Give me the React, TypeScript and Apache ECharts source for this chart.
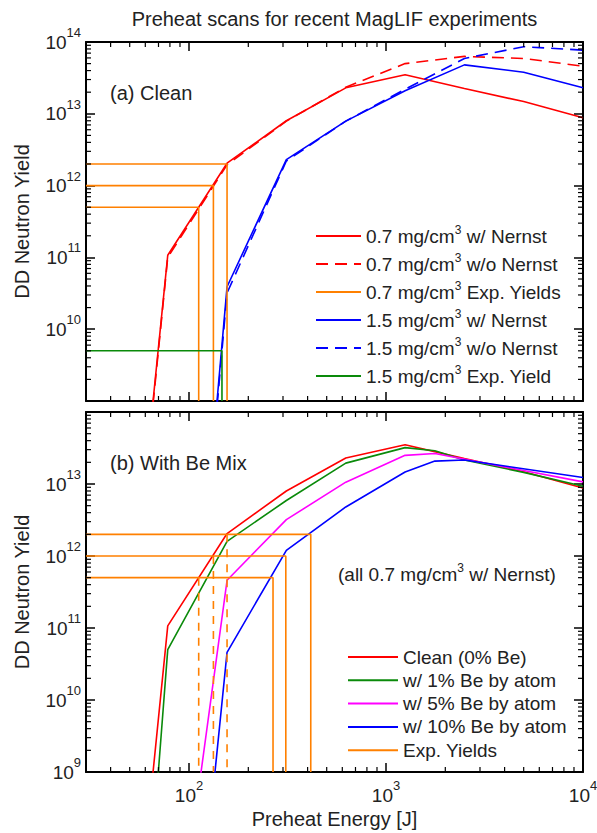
import React, { useEffect, useRef } from 'react';
import * as echarts from 'echarts';

const FONT = '"Liberation Sans", Arial, Helvetica, sans-serif';
const TEXT = '#222222';

// ---- axis ranges and ticks ----
const X_MIN = 30;
const X_MAX = 10000;
const Y_MIN = 1e9;
const Y_MAX = 1e14;
const xMinorTicks = [40, 50, 60, 70, 80, 90, 200, 300, 400, 500, 600, 700, 800, 900, 2000, 3000, 4000, 5000, 6000, 7000, 8000, 9000];
const yMinorTicks = [
  2e9, 3e9, 4e9, 5e9, 6e9, 7e9, 8e9, 9e9,
  2e10, 3e10, 4e10, 5e10, 6e10, 7e10, 8e10, 9e10,
  2e11, 3e11, 4e11, 5e11, 6e11, 7e11, 8e11, 9e11,
  2e12, 3e12, 4e12, 5e12, 6e12, 7e12, 8e12, 9e12,
  2e13, 3e13, 4e13, 5e13, 6e13, 7e13, 8e13, 9e13,
];

// ---- panel (a): clean scans ----
const energy07 = [55, 78, 156, 312, 625, 1250, 2500, 5000, 10000];
const yield07Nernst = [8e6, 1.07e11, 2.05e12, 8.0e12, 2.3e13, 3.5e13, 2.25e13, 1.48e13, 8.8e12];
const yield07NoNernst = [7e6, 1.0e11, 1.95e12, 7.9e12, 2.35e13, 5.0e13, 6.3e13, 5.9e13, 4.6e13];
const energy15 = [110, 156, 312, 625, 1250, 2500, 5000, 10000];
const yield15Nernst = [7e5, 3.9e10, 2.3e12, 7.9e12, 2.1e13, 4.8e13, 3.8e13, 2.3e13];
const yield15NoNernst = [6e5, 3.2e10, 2.2e12, 7.9e12, 2.2e13, 5.9e13, 8.6e13, 7.7e13];

// ---- panel (b): Be mix scans (0.7 mg/cm3 w/ Nernst) ----
const energyBe1 = [55, 78, 156, 312, 625, 1250, 1770, 2500, 5000, 10000];
const yieldBe1 = [2e5, 5e10, 1.6e12, 5.9e12, 1.95e13, 3.2e13, 2.9e13, 2.15e13, 1.45e13, 9.3e12];
const energyBe5 = [110, 156, 312, 625, 1250, 1770, 10000];
const yieldBe5 = [4e8, 4.6e11, 3.2e12, 1.06e13, 2.5e13, 2.65e13, 1.07e13];
const energyBe10 = [110, 156, 312, 625, 1250, 1770, 2500, 10000];
const yieldBe10 = [3.5e6, 4.6e10, 1.2e12, 4.8e12, 1.47e13, 2.08e13, 2.15e13, 1.23e13];

// ---- experimental yields and inferred preheat energies ----
const expYields07 = [5e11, 1e12, 2e12];
const expEnergyClean07 = [112, 133, 156];
const expEnergyBe07 = [267, 310, 415];
const expYields15 = [5e9];
const expEnergyClean15 = [147];

const RED = '#ff0000';
const BLUE = '#0000ff';
const GREEN = '#0a8a0a';
const MAGENTA = '#ff00ff';
const ORANGE = '#ff8000';

const pairs = (xs: number[], ys: number[]) => xs.map((x, i) => [x, ys[i]]);

const line = (name: string, xs: number[], ys: number[], color: string, grid: number, dashed = false) => ({
  type: 'line',
  name,
  xAxisIndex: grid * 2,
  yAxisIndex: grid * 2,
  data: pairs(xs, ys),
  showSymbol: false,
  symbol: 'none',
  clip: true,
  silent: true,
  z: 3,
  itemStyle: { color },
  lineStyle: { color, width: 1.6, type: dashed ? [12, 7] : 'solid' },
});

const expLSeries = (name: string, ys: number[], xs: number[], color: string, grid: number) =>
  ys.map((y, i) => ({
    type: 'line',
    name,
    xAxisIndex: grid * 2,
    yAxisIndex: grid * 2,
    data: [[X_MIN, y], [xs[i], y], [xs[i], Y_MIN]],
    showSymbol: false,
    symbol: 'none',
    clip: true,
    silent: true,
    z: 4,
    itemStyle: { color },
    lineStyle: { color, width: 1.6 },
  }));

const expDashSeries = (name: string, ys: number[], xs: number[], color: string, grid: number) =>
  ys.map((y, i) => ({
    type: 'line',
    name,
    xAxisIndex: grid * 2,
    yAxisIndex: grid * 2,
    data: [[xs[i], y], [xs[i], Y_MIN]],
    showSymbol: false,
    symbol: 'none',
    clip: true,
    silent: true,
    z: 4,
    itemStyle: { color },
    lineStyle: { color, width: 1.6, type: [8, 7] },
  }));

const minorTickSeries = (grid: number, dir: 'x' | 'y') => ({
  type: 'custom',
  xAxisIndex: grid * 2,
  yAxisIndex: grid * 2,
  silent: true,
  z: 10,
  data: dir === 'x' ? xMinorTicks.map((v) => [v, Y_MIN]) : yMinorTicks.map((v) => [X_MIN, v]),
  renderItem: (params: any, api: any) => {
    const cs = params.coordSys;
    const p = api.coord([api.value(0), api.value(1)]);
    const st = { stroke: '#000', lineWidth: 1.2 };
    const L = 5;
    if (dir === 'x') {
      const top = cs.y;
      const bot = cs.y + cs.height;
      return {
        type: 'group',
        children: [
          { type: 'line', shape: { x1: p[0], y1: bot, x2: p[0], y2: bot - L }, style: st },
          { type: 'line', shape: { x1: p[0], y1: top, x2: p[0], y2: top + L }, style: st },
        ],
      };
    }
    const left = cs.x;
    const right = cs.x + cs.width;
    return {
      type: 'group',
      children: [
        { type: 'line', shape: { x1: left, y1: p[1], x2: left + L, y2: p[1] }, style: st },
        { type: 'line', shape: { x1: right, y1: p[1], x2: right - L, y2: p[1] }, style: st },
      ],
    };
  },
});

const powFormatter = (hide: number[]) => (v: number) => {
  const lg = Math.log10(v);
  const e = Math.round(lg);
  if (Math.abs(lg - e) > 1e-6 || hide.includes(e)) return '';
  return `{b|10}{s|${e}}`;
};

const labelRich = {
  b: { fontSize: 19, fontFamily: FONT, color: TEXT },
  s: { fontSize: 13, fontFamily: FONT, color: TEXT, padding: [0, 0, 19, 0] },
};

const axisCommon = {
  type: 'log',
  logBase: 10,
  axisLine: { show: true, onZero: false, lineStyle: { color: '#000', width: 2 } },
  axisTick: { show: true, inside: true, length: 9, lineStyle: { color: '#000', width: 1.5 } },
  splitLine: { show: false },
  minorTick: { show: false },
};

const xAxisDef = (grid: number, position: 'top' | 'bottom', labels: boolean, withName: boolean) => ({
  ...axisCommon,
  gridIndex: grid,
  position,
  min: X_MIN,
  max: X_MAX,
  splitNumber: 3,
  axisLabel: {
    show: labels,
    showMinLabel: true,
    showMaxLabel: true,
    margin: 7,
    formatter: powFormatter([]),
    rich: labelRich,
  },
  name: withName ? 'Preheat Energy [J]' : '',
  nameLocation: 'middle',
  nameGap: 37,
  nameTextStyle: { fontSize: 20, fontFamily: FONT, color: TEXT },
});

const yAxisDef = (grid: number, position: 'left' | 'right', labels: boolean, hide: number[]) => ({
  ...axisCommon,
  gridIndex: grid,
  position,
  min: Y_MIN,
  max: Y_MAX,
  splitNumber: 5,
  axisLabel: {
    show: labels,
    showMinLabel: true,
    showMaxLabel: true,
    margin: 5,
    formatter: powFormatter(hide),
    rich: labelRich,
  },
  name: labels ? 'DD Neutron Yield' : '',
  nameLocation: 'middle',
  nameGap: 54,
  nameRotate: 90,
  nameTextStyle: { fontSize: 20, fontFamily: FONT, color: TEXT },
});

const legendText = {
  fontSize: 19,
  fontFamily: FONT,
  color: TEXT,
  lineHeight: 20,
  rich: { s: { fontSize: 12, lineHeight: 12, fontFamily: FONT, color: TEXT, padding: [0, 0, 12, 0] } },
};

const NAME_07N = '0.7 mg/cm3 w/ Nernst';
const NAME_07NN = '0.7 mg/cm3 w/o Nernst';
const NAME_07E = '0.7 mg/cm3 Exp. Yields';
const NAME_15N = '1.5 mg/cm3 w/ Nernst';
const NAME_15NN = '1.5 mg/cm3 w/o Nernst';
const NAME_15E = '1.5 mg/cm3 Exp. Yield';
const NAME_B0 = 'Clean (0% Be)';
const NAME_B1 = 'w/ 1% Be by atom';
const NAME_B5 = 'w/ 5% Be by atom';
const NAME_B10 = 'w/ 10% Be by atom';
const NAME_BE = 'Exp. Yields';

export default function App() {
  const ref = useRef<HTMLDivElement>(null);
  useEffect(() => {
    if (!ref.current) return;
    const chart = echarts.init(ref.current, undefined, { renderer: 'svg' });
    const option: any = {
      animation: false,
      backgroundColor: '#ffffff',
      textStyle: { fontFamily: FONT },
      grid: [
        { left: 86, top: 42, width: 497, height: 359, outerBoundsMode: 'none', containLabel: false },
        { left: 86, top: 412, width: 497, height: 360, outerBoundsMode: 'none', containLabel: false },
      ],
      xAxis: [
        xAxisDef(0, 'bottom', false, false),
        xAxisDef(0, 'top', false, false),
        xAxisDef(1, 'bottom', true, true),
        xAxisDef(1, 'top', false, false),
      ],
      yAxis: [
        yAxisDef(0, 'left', true, [9]),
        yAxisDef(0, 'right', false, []),
        yAxisDef(1, 'left', true, [14]),
        yAxisDef(1, 'right', false, []),
      ],
      legend: [
        {
          orient: 'vertical',
          left: 315,
          top: 224,
          padding: 0,
          itemWidth: 45,
          itemHeight: 14,
          itemGap: 4,
          selectedMode: false,
          itemStyle: { opacity: 0 },
          data: [NAME_07N, NAME_07NN, NAME_07E, NAME_15N, NAME_15NN, NAME_15E],
          formatter: (n: string) => n.replace('cm3', 'cm{s|3}'),
          textStyle: legendText,
        },
        {
          orient: 'vertical',
          left: 347,
          top: 647,
          padding: 0,
          itemWidth: 50,
          itemHeight: 14,
          itemGap: 3.3,
          selectedMode: false,
          itemStyle: { opacity: 0 },
          data: [NAME_B0, NAME_B1, NAME_B5, NAME_B10, NAME_BE],
          textStyle: legendText,
        },
      ],
      graphic: [
        {
          type: 'text',
          x: 334.5,
          y: 18.5,
          style: {
            text: 'Preheat scans for recent MagLIF experiments',
            fontSize: 20,
            fontFamily: FONT,
            fill: TEXT,
            textAlign: 'center',
            textVerticalAlign: 'middle',
          },
        },
        {
          type: 'text',
          x: 110,
          y: 93,
          style: { text: '(a) Clean', fontSize: 20, fontFamily: FONT, fill: TEXT, textVerticalAlign: 'middle' },
        },
        {
          type: 'text',
          x: 110,
          y: 463,
          style: { text: '(b) With Be Mix', fontSize: 20, fontFamily: FONT, fill: TEXT, textVerticalAlign: 'middle' },
        },
        {
          type: 'text',
          x: 338,
          y: 574,
          style: {
            text: '(all 0.7 mg/cm{s|3} w/ Nernst)',
            fontSize: 19,
            fontFamily: FONT,
            fill: TEXT,
            textVerticalAlign: 'middle',
            rich: { s: { fontSize: 12, lineHeight: 12, fontFamily: FONT, fill: TEXT, padding: [0, 0, 12, 0] } },
          },
        },
      ],
      series: [
        minorTickSeries(0, 'x'),
        minorTickSeries(0, 'y'),
        minorTickSeries(1, 'x'),
        minorTickSeries(1, 'y'),
        line(NAME_07N, energy07, yield07Nernst, RED, 0),
        line(NAME_07NN, energy07, yield07NoNernst, RED, 0, true),
        line(NAME_15N, energy15, yield15Nernst, BLUE, 0),
        line(NAME_15NN, energy15, yield15NoNernst, BLUE, 0, true),
        ...expLSeries(NAME_07E, expYields07, expEnergyClean07, ORANGE, 0),
        ...expLSeries(NAME_15E, expYields15, expEnergyClean15, GREEN, 0),
        line(NAME_B0, energy07, yield07Nernst, RED, 1),
        line(NAME_B1, energyBe1, yieldBe1, GREEN, 1),
        line(NAME_B5, energyBe5, yieldBe5, MAGENTA, 1),
        line(NAME_B10, energyBe10, yieldBe10, BLUE, 1),
        ...expLSeries(NAME_BE, expYields07, expEnergyBe07, ORANGE, 1),
        ...expDashSeries(NAME_BE, expYields07, expEnergyClean07, ORANGE, 1),
      ],
    };
    chart.setOption(option);
    return () => chart.dispose();
  }, []);
  return (
    <div
      ref={ref}
      style={{ position: 'absolute', left: 0, top: 0, width: 597, height: 833, background: '#fff' }}
    />
  );
}
